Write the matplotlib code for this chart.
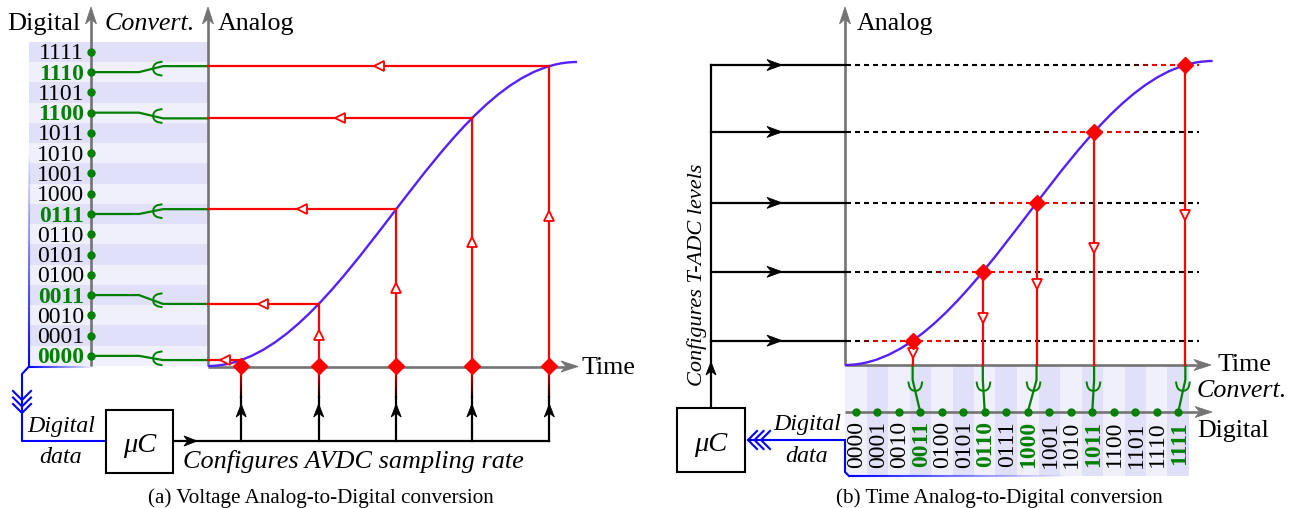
import numpy as np
import matplotlib
matplotlib.use('Agg')
import matplotlib.pyplot as plt
from matplotlib.path import Path
from matplotlib.patches import PathPatch, Rectangle, Polygon
from matplotlib.collections import LineCollection
from matplotlib.bezier import BezierSegment
from matplotlib.colors import to_rgba

plt.rcParams['font.family'] = ['Liberation Serif', 'DejaVu Serif']

# ---- data ----
codes = ['0000', '0001', '0010', '0011', '0100', '0101', '0110', '0111',
         '1000', '1001', '1010', '1011', '1100', '1101', '1110', '1111']

# (a) analog signal as cubic bezier control points: time 0..10, level 0..15
sig_a_t = [0.0, 3.7, 6.3, 10.0]
sig_a_v = [0.0, 0.0, 15.0, 15.0]
# AVDC sampling instants
avdc_times = [0.9, 3.0, 5.1, 7.15, 9.25]

# (b) analog signal, time measured in code slots
sig_b_t = [0.0, 6.33, 10.77, 17.1]
sig_b_v = [0.0, 0.0, 15.0, 15.0]
# T-ADC comparison levels
tadc_levels = [1.2, 4.6, 8.0, 11.5, 14.8]

GRAY = '#747474'
GREEN = '#008000'
RED = '#ff0000'
BLUE = '#0000ff'
CURVE = '#5520ff'
STRIPE_D = '#e0e0f8'
STRIPE_L = '#f0f0fc'

W, H = 1294, 508
fig = plt.figure(figsize=(W / 100, H / 100), dpi=100)
ov = fig.add_axes([0, 0, 1, 1])
ov.set_xlim(0, W)
ov.set_ylim(H, 0)
ov.axis('off')


def panel(x0, ybot, w, h, xlim, ylim):
    a = fig.add_axes([x0 / W, (H - ybot) / H, w / W, h / H])
    a.set_xlim(*xlim)
    a.set_ylim(*ylim)
    a.axis('off')
    a.patch.set_visible(False)
    return a


pa = panel(208, 366, 369, 304, (0, 10), (0, 15))
pb = panel(845, 365, 367.65, 304, (0, 17.1), (0, 15))


def to_px(a, x, y):
    pts = np.column_stack([np.atleast_1d(x), np.atleast_1d(y)]).astype(float)
    return ov.transData.inverted().transform(a.transData.transform(pts))


def head(x, y, ux, uy, length=14, half=5.5, color='black', z=6):
    nx, ny = -uy, ux
    pts = [(x, y),
           (x - length * ux + half * nx, y - length * uy + half * ny),
           (x - 0.7 * length * ux, y - 0.7 * length * uy),
           (x - length * ux - half * nx, y - length * uy - half * ny)]
    ov.add_patch(Polygon(pts, closed=True, fc=color, ec=color, lw=0.6, zorder=z))


def axis_arrow(x0, y0, x1, y1):
    L = np.hypot(x1 - x0, y1 - y0)
    ux, uy = (x1 - x0) / L, (y1 - y0) / L
    ov.plot([x0, x1 - 8 * ux], [y0, y1 - 8 * uy], color=GRAY, lw=1.9,
            solid_capstyle='butt', zorder=3)
    head(x1, y1, ux, uy, length=17, half=5.5, color=GRAY, z=3)


def fork(x, y, ux, uy, color=GREEN):
    nx, ny = -uy, ux
    a = np.array([0, -0.6, -2.0, -4.5, -8.5])
    p = np.array([0, 2.6, 4.6, 6.0, 6.8])
    along = np.concatenate([a[::-1], a[1:]])
    perp = np.concatenate([p[::-1], -p[1:]])
    ov.plot(x + along * ux + perp * nx, y + along * uy + perp * ny,
            color=color, lw=1.4, zorder=5)


def chevrons(x, y, ux, uy, n=3, gap=6.5):
    nx, ny = -uy, ux
    for j in range(n):
        tx, ty = x - j * gap * ux, y - j * gap * uy
        ov.plot([tx - 9 * ux + 9 * nx, tx, tx - 9 * ux - 9 * nx],
                [ty - 9 * uy + 9 * ny, ty, ty - 9 * uy - 9 * ny],
                color=BLUE, lw=1.5, zorder=5)


def grad_line(p0, p1, c0, c1, n=40, lw=1.5, z=3):
    s = np.linspace(0, 1, n + 1)
    X = p0[0] + (p1[0] - p0[0]) * s
    Y = p0[1] + (p1[1] - p0[1]) * s
    segs = [[(X[i], Y[i]), (X[i + 1], Y[i + 1])] for i in range(n)]
    r0, r1 = np.array(to_rgba(c0)), np.array(to_rgba(c1))
    cols = [(1 - m) * r0 + m * r1 for m in (s[:-1] + s[1:]) / 2]
    ov.add_collection(LineCollection(segs, colors=cols, linewidths=lw,
                                     zorder=z, capstyle='butt'))


def signal(ax, ts, vs):
    verts = np.column_stack([ts, vs])
    path = Path(verts, [Path.MOVETO, Path.CURVE4, Path.CURVE4, Path.CURVE4])
    ax.add_patch(PathPatch(path, fc='none', ec=CURVE, lw=1.7, clip_on=False, zorder=4))
    return BezierSegment(verts)(np.linspace(0, 1, 600))


def label(x, y, s, size=18.7, **kw):
    ov.text(x, y, s, fontsize=size, va='baseline', zorder=8, **kw)


# ================= (a) Voltage ADC =================
curve_a = signal(pa, sig_a_t, sig_a_v)
avdc_vals = np.interp(avdc_times, curve_a[:, 0], curve_a[:, 1])
avdc_codes = np.floor(avdc_vals).astype(int)

# stripes of the digital band
for k in range(16):
    ytop = to_px(pa, 0, k + 1)[0, 1]
    ybot = to_px(pa, 0, k)[0, 1]
    ov.add_patch(Rectangle((29, ytop), 208 - 29, ybot - ytop,
                           fc=STRIPE_D if k % 2 else STRIPE_L, ec='none', zorder=0))

axis_arrow(91, 366, 91, 7)
axis_arrow(208, 366, 208, 7)
axis_arrow(208, 366.5, 578, 366.5)

for k, c in enumerate(codes):
    yk = to_px(pa, 0, k + 0.5)[0, 1]
    hi = k in avdc_codes
    ov.text(84, yk + 7.5, c, ha='right', va='baseline', fontsize=17,
            color=GREEN if hi else 'black', fontweight='bold' if hi else 'normal', zorder=8)
    ov.plot(91, yk, 'o', ms=5, color=GREEN, zorder=6)

# sampled values back to the convert axis
for t, v, c in zip(avdc_times, avdc_vals, avdc_codes):
    pa.plot([t, t], [0, v], color=RED, lw=1.6, clip_on=False, zorder=5)
    pa.plot([0, t], [v, v], color=RED, lw=1.6, clip_on=False, zorder=5)
    pa.plot(t / 2, v, marker='<', ms=7, mfc='white', mec=RED, mew=1.3,
            clip_on=False, zorder=6)
    if v > 1:
        pa.plot(t, v / 2, marker='^', ms=7, mfc='white', mec=RED, mew=1.3,
                clip_on=False, zorder=6)
    pa.plot(t, 0, marker='D', ms=8, color=RED, clip_on=False, zorder=7)

    yc = to_px(pa, 0, c + 0.5)[0, 1]
    ys = to_px(pa, 0, v)[0, 1]
    ov.plot([91, 139, 163, 208], [yc, yc, ys, ys], color=GREEN, lw=1.6, zorder=5)
    fork(153, yc + (ys - yc) * (153 - 139) / (163 - 139), -1, 0)

    # sampling trigger from the microcontroller
    xs = to_px(pa, t, 0)[0, 0]
    grad_line((xs, 368), (xs, 398), RED, 'black', lw=1.6)
    ov.plot([xs, xs], [397, 441], color='black', lw=1.6, zorder=3)
    head(xs, 404, 0, -1, length=13, half=5)

x_last = to_px(pa, avdc_times[-1], 0)[0, 0]
ov.plot([173, x_last], [441, 441], color='black', lw=1.6, zorder=3)
head(197, 441, 1, 0, length=13, half=5)
ov.add_patch(Rectangle((106, 410), 67, 63, fc='white', ec='black', lw=1.5, zorder=4))
ov.text(139.5, 452, 'μC', ha='center', va='baseline', fontsize=20.5, style='italic', zorder=8)

# digital data path (blue)
grad_line((29, 366.5), (29, 150), BLUE, (0, 0, 1, 0), lw=1.5)
grad_line((29, 366.5), (96, 366.5), BLUE, (0, 0, 1, 0), lw=1.5)
ov.plot([29, 22, 22, 106], [366.5, 374, 441, 441], color=BLUE, lw=1.5, zorder=3)
chevrons(22, 413, 0, 1)

label(7, 30, 'Digital', size=19)
label(105, 30, 'Convert.', style='italic')
label(218, 30, 'Analog')
label(581, 374, 'Time')
label(61, 432, 'Digital', size=17.3, style='italic', ha='center')
label(61, 463, 'data', size=17.3, style='italic', ha='center')
label(353, 468, 'Configures AVDC sampling rate', size=18.9, style='italic', ha='center')
label(321, 503, '(a) Voltage Analog-to-Digital conversion', size=15.2, ha='center')

# ================= (b) Time ADC =================
curve_b = signal(pb, sig_b_t, sig_b_v)
cross_t = np.interp(tadc_levels, curve_b[:, 1], curve_b[:, 0])
tadc_codes = np.minimum(np.floor(cross_t), 15).astype(int)

for k in range(16):
    x0 = to_px(pb, k, 0)[0, 0]
    x1 = to_px(pb, k + 1, 0)[0, 0]
    ov.add_patch(Rectangle((x0, 365), x1 - x0, 476 - 365,
                           fc=STRIPE_D if k % 2 else STRIPE_L, ec='none', zorder=0))

axis_arrow(845, 365, 845, 7)
axis_arrow(845, 365, 1211, 365)
axis_arrow(845, 412, 1212, 412)

for k, c in enumerate(codes):
    xk = to_px(pb, k + 0.5, 0)[0, 0]
    hi = k in tadc_codes
    ov.text(xk + 1, 421, c, rotation=90, ha='center', va='top', fontsize=17,
            color=GREEN if hi else 'black', fontweight='bold' if hi else 'normal', zorder=8)
    ov.plot(xk, 412, 'o', ms=5, color=GREEN, zorder=6)

# level configuration lines
lev_px = [to_px(pb, 0, L)[0, 1] for L in tadc_levels]
ov.plot([711, 711], [min(lev_px), 408], color='black', lw=1.6, zorder=3)
head(711, 362, 0, -1, length=13, half=5)
for yL, tc in zip(lev_px, cross_t):
    ov.plot([711, 845], [yL, yL], color='black', lw=1.6, zorder=3)
    head(782, yL, 1, 0, length=15, half=5.5)
    xc = to_px(pb, tc, 0)[0, 0]
    starts = np.arange(846, 1199, 9.0)
    segs, cols = [], []
    for s0 in starts:
        s1 = min(s0 + 4.5, 1199)
        w = np.clip((55 - abs((s0 + s1) / 2 - xc)) / 22, 0, 1)
        segs.append([(s0, yL), (s1, yL)])
        cols.append((w, 0, 0, 1))
    ov.add_collection(LineCollection(segs, colors=cols, linewidths=1.5,
                                     zorder=3, capstyle='butt'))

for L, tc, c in zip(tadc_levels, cross_t, tadc_codes):
    pb.plot([tc, tc], [L, 0], color=RED, lw=1.6, clip_on=False, zorder=5)
    pb.plot(tc, L / 2, marker='v', ms=7, mfc='white', mec=RED, mew=1.3,
            clip_on=False, zorder=6)
    pb.plot(tc, L, marker='D', ms=8, color=RED, clip_on=False, zorder=7)

    xc = to_px(pb, tc, 0)[0, 0]
    xk = to_px(pb, c + 0.5, 0)[0, 0]
    ov.plot([xc, xc, xk], [365, 380, 412], color=GREEN, lw=1.6, zorder=5)
    fork(xc + (xk - xc) * (391 - 380) / (412 - 380), 391, 0, 1)

ov.add_patch(Rectangle((677, 408), 68, 64, fc='white', ec='black', lw=1.5, zorder=4))
ov.text(711, 451, 'μC', ha='center', va='baseline', fontsize=20.5, style='italic', zorder=8)

grad_line((849, 476), (1070, 476), BLUE, (0, 0, 1, 0), lw=1.5)
ov.plot([845, 845, 849], [440, 472, 476], color=BLUE, lw=1.5, zorder=3)
ov.plot([845, 748], [440, 440], color=BLUE, lw=1.5, zorder=3)
chevrons(748, 440, -1, 0)

label(857, 30, 'Analog')
label(1217, 371, 'Time')
label(1197, 397, 'Convert.', style='italic')
label(1197, 437, 'Digital')
label(807, 430, 'Digital', size=17.3, style='italic', ha='center')
label(807, 462, 'data', size=17.3, style='italic', ha='center')
ov.text(697, 275, 'Configures T-ADC levels', rotation=90, ha='center', va='center',
        fontsize=16, style='italic', zorder=8)
label(999, 503, '(b) Time Analog-to-Digital conversion', size=15.2, ha='center')

fig.savefig('out.png', dpi=100)
